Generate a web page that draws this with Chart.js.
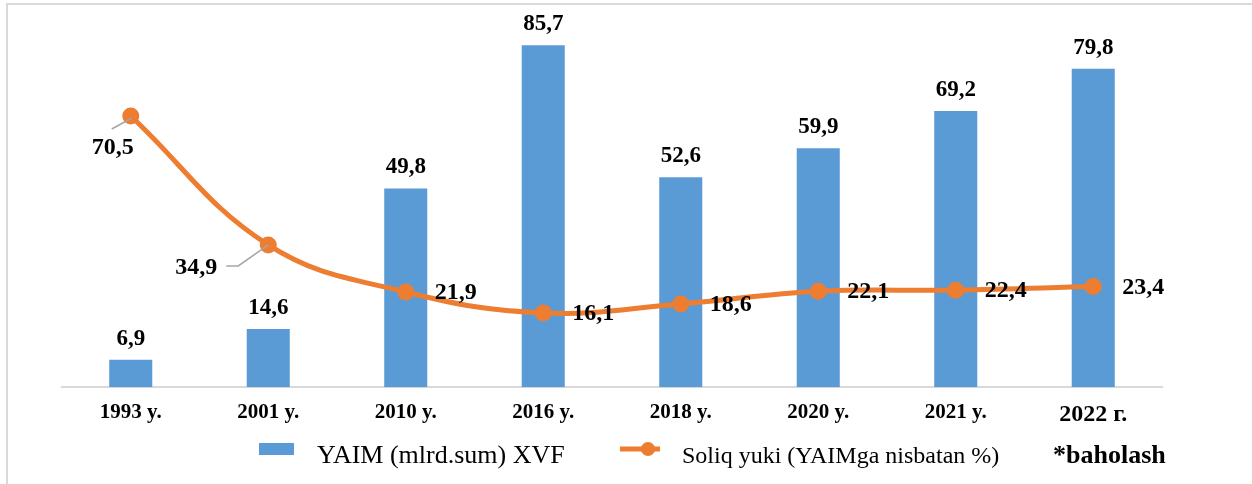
<!DOCTYPE html>
<html>
<head>
<meta charset="utf-8">
<script src="https://cdn.jsdelivr.net/npm/chart.js@4.4.0/dist/chart.umd.min.js"></script>
<style>
  html, body { margin: 0; padding: 0; background: #fff; }
  #wrap { position: relative; width: 1252px; height: 484px; }
</style>
</head>
<body>
<div id="wrap"><canvas id="chart" width="1252" height="484"></canvas></div>
<script>
// chart data
const categories = ['1993 y.', '2001 y.', '2010 y.', '2016 y.', '2018 y.', '2020 y.', '2021 y.', '2022 г.'];
const gdpValues = [6.9, 14.6, 49.8, 85.7, 52.6, 59.9, 69.2, 79.8];
const taxBurden = [70.5, 34.9, 21.9, 16.1, 18.6, 22.1, 22.4, 23.4];
const legendLabels = ['YAIM (mlrd.sum) XVF', 'Soliq yuki (YAIMga nisbatan %)', '*baholash'];

const BAR_COLOR = '#5B9BD5';
const LINE_COLOR = '#ED7D31';
const SERIF = "'Liberation Serif', 'Times New Roman', serif";

// where each line label sits relative to its marker
const rightLabel = { dx: 29, dy: 1, align: 'left' };
const lineLabelPlacement = [
    { dx: -18, dy: 32, align: 'center', leader: [[1, 2], [-19, 13]] },
    { dx: -72, dy: 23, align: 'center', leader: [[0, 0], [-30, 21], [-42, 21]] },
    rightLabel, rightLabel, rightLabel, rightLabel, rightLabel, rightLabel
];

const fmt = v => v.toFixed(1).replace('.', ',');

const labelsPlugin = {
    id: 'labels',
    beforeDraw(chart) {
        const ctx = chart.ctx;
        ctx.save();
        ctx.fillStyle = '#d9d9d9';
        ctx.fillRect(6, 3, 2, chart.height);
        ctx.fillRect(6, 3, chart.width, 2);
        ctx.restore();
    },
    afterDatasetsDraw(chart) {
        const ctx = chart.ctx;
        ctx.save();

        // bar value labels
        ctx.fillStyle = '#000';
        ctx.font = 'bold 23px ' + SERIF;
        ctx.textAlign = 'center';
        ctx.textBaseline = 'alphabetic';
        chart.getDatasetMeta(1).data.forEach((bar, i) => {
            ctx.fillText(fmt(gdpValues[i]), bar.x, bar.y - 15);
        });

        // line value labels
        ctx.font = 'bold 24px ' + SERIF;
        ctx.textBaseline = 'middle';
        chart.getDatasetMeta(0).data.forEach((pt, i) => {
            const p = lineLabelPlacement[i];
            if (p.leader) {
                ctx.strokeStyle = '#a6a6a6';
                ctx.lineWidth = 1.5;
                ctx.beginPath();
                p.leader.forEach(([dx, dy], k) => {
                    if (k === 0) ctx.moveTo(pt.x + dx, pt.y + dy);
                    else ctx.lineTo(pt.x + dx, pt.y + dy);
                });
                ctx.stroke();
            }
            ctx.textAlign = p.align;
            ctx.fillText(fmt(taxBurden[i]), pt.x + p.dx, pt.y + p.dy);
        });
        ctx.restore();
    },
    afterDraw(chart) {
        // legend below the axis
        const ctx = chart.ctx;
        ctx.save();
        ctx.fillStyle = BAR_COLOR;
        ctx.fillRect(259, 443, 35, 12);

        ctx.strokeStyle = LINE_COLOR;
        ctx.lineWidth = 5;
        ctx.beginPath();
        ctx.moveTo(620, 449);
        ctx.lineTo(660, 449);
        ctx.stroke();
        ctx.fillStyle = LINE_COLOR;
        ctx.beginPath();
        ctx.arc(648, 449, 7, 0, Math.PI * 2);
        ctx.fill();

        ctx.fillStyle = '#000';
        ctx.textAlign = 'left';
        ctx.textBaseline = 'alphabetic';
        ctx.font = '26px ' + SERIF;
        ctx.fillText(legendLabels[0], 317, 463);
        ctx.font = '24px ' + SERIF;
        ctx.fillText(legendLabels[1], 682, 463);
        ctx.font = 'bold 26px ' + SERIF;
        ctx.fillText(legendLabels[2], 1053, 463);
        ctx.restore();
    }
};

const ctx = document.getElementById('chart').getContext('2d');
const chart = new Chart(ctx, {
    data: {
        labels: categories,
        datasets: [{
            type: 'line',
            label: legendLabels[1],
            data: taxBurden,
            yAxisID: 'y1',
            borderColor: LINE_COLOR,
            backgroundColor: LINE_COLOR,
            borderWidth: 5,
            pointRadius: 8.5,
            pointBackgroundColor: LINE_COLOR,
            pointBorderWidth: 0,
            tension: 0.4,
            clip: false,
            order: 0
        }, {
            type: 'bar',
            label: legendLabels[0],
            data: gdpValues,
            yAxisID: 'y',
            backgroundColor: BAR_COLOR,
            categoryPercentage: 1,
            barPercentage: 0.313,
            order: 1
        }]
    },
    options: {
        responsive: false,
        animation: false,
        layout: {
            padding: { left: 62, right: 90, top: 28, bottom: 42 }
        },
        scales: {
            x: {
                grid: { display: false, drawTicks: false },
                border: { display: true, color: '#d9d9d9', width: 2 },
                ticks: {
                    padding: 13,
                    color: '#000',
                    maxRotation: 0,
                    font: (c) => ({
                        family: SERIF,
                        weight: 'bold',
                        size: c.index === categories.length - 1 ? 24 : 21
                    })
                }
            },
            y: {
                display: false,
                min: 0,
                max: 90
            },
            y1: {
                display: false,
                min: -4.4,
                max: 94.8
            }
        },
        plugins: {
            legend: { display: false },
            tooltip: { enabled: false }
        }
    },
    plugins: [labelsPlugin]
});
</script>
</body>
</html>
